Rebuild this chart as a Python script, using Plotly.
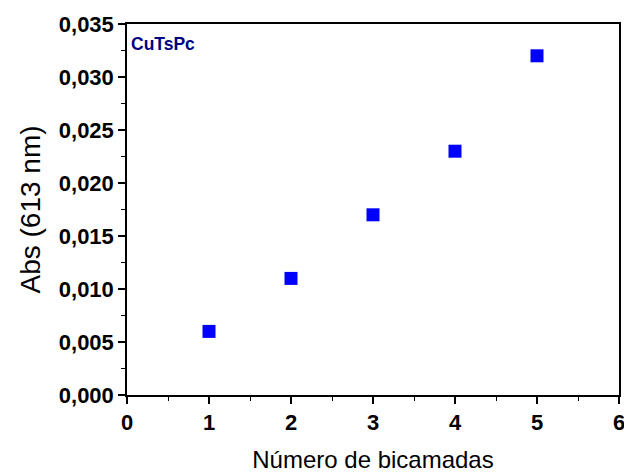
import plotly.graph_objects as go

x_bilayers = [1, 2, 3, 4, 5]
abs_613 = [0.006, 0.011, 0.017, 0.023, 0.032]
series_label = "CuTsPc"
x_title = "Número de bicamadas"
y_title = "Abs (613 nm)"

fig = go.Figure()
fig.add_trace(go.Scatter(
    x=x_bilayers, y=abs_613, mode="markers",
    marker=dict(symbol="square", size=13, color="#0000ff", line=dict(width=0)),
    showlegend=False, cliponaxis=False,
))

axis_common = dict(
    showgrid=False, zeroline=False, showline=True, linecolor="black", linewidth=1.5,
    mirror=True, ticks="outside", ticklen=7, tickwidth=1.5, tickcolor="black",
    tickfont=dict(family="Liberation Sans", size=22, color="black", weight="bold"),
    minor=dict(ticks="outside", ticklen=4, tickwidth=1.2, tickcolor="black"),
    automargin=False,
)

fig.update_xaxes(range=[0, 6], dtick=1, tick0=0, **axis_common,
                 title=dict(text=x_title, font=dict(family="Liberation Sans", size=24, color="black"), standoff=17))
fig.update_yaxes(range=[0, 0.035], dtick=0.005, tick0=0, tickformat=".3f", **axis_common,
                 title=dict(text=y_title, font=dict(family="Liberation Sans", size=28, color="black"), standoff=10))
fig.update_xaxes(minor=dict(dtick=0.5))
fig.update_yaxes(minor=dict(dtick=0.0025))

fig.add_annotation(x=0, y=1, xref="paper", yref="paper", xanchor="left", yanchor="top",
                   xshift=2, yshift=-8, text="<b>" + series_label + "</b>", showarrow=False,
                   font=dict(family="Liberation Sans", size=17.5, color="#000080"))

fig.update_layout(
    width=636, height=475, separators=",.",
    margin=dict(l=127, r=17, t=24, b=80),
    paper_bgcolor="white", plot_bgcolor="white",
)
fig.write_html(
    "out.html",
    config={"displayModeBar": False},
    post_script=(
        "document.body.style.margin='0';"
        "document.body.style.overflow='hidden';"
        "document.documentElement.style.overflow='hidden';"
    ),
)
